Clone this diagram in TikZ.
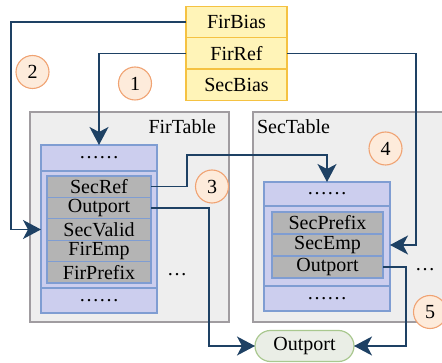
\documentclass[tikz,border=0pt]{standalone}
\usepackage{fontspec}
\setmainfont{Liberation Serif}
\usetikzlibrary{arrows.meta,positioning}
\definecolor{lnc}{HTML}{1E4164}
\definecolor{ylf}{HTML}{FFF4B8}
\definecolor{yld}{HTML}{F5C242}
\definecolor{tbf}{HTML}{EEEEEE}
\definecolor{tbd}{HTML}{A09CA0}
\definecolor{blf}{HTML}{CCCEEE}
\definecolor{bld}{HTML}{7F9DD2}
\definecolor{grf}{HTML}{B4B4B4}
\definecolor{cif}{HTML}{FDEBDB}
\definecolor{cid}{HTML}{F0A373}
\definecolor{otf}{HTML}{EAEEE6}
\definecolor{otd}{HTML}{A9C88F}
\begin{document}
\begin{tikzpicture}[x=1pt,y=-1pt,
  font=\fontsize{20}{22}\selectfont,
  every node/.style={inner sep=0pt,outer sep=0pt},
  ybox/.style={draw=yld,fill=ylf,line width=1.2pt,minimum width=101pt,minimum height=31.3pt},
  tbl/.style={draw=tbd,fill=tbf,line width=1.2pt},
  bbox/.style={draw=bld,fill=blf,line width=1.1pt},
  grayrow/.style={draw=bld,fill=grf,line width=1.1pt},
  num/.style={circle,draw=cid,fill=cif,line width=1.1pt,minimum size=33pt},
  arr/.style={draw=lnc,line width=1.4pt,-{Stealth[length=18pt,width=19pt,inset=5pt]}},
  ln/.style={draw=lnc,line width=1.4pt}]
\useasboundingbox (0,0) rectangle (442,363);
\clip (0,0) rectangle (442,363);
% tables
\node[tbl,minimum width=199pt,minimum height=210pt] (firtab) at (129.5,217) {};
\node[tbl,minimum width=220pt,minimum height=210pt] (sectab) at (363,217) {};
\node[anchor=east] (firlab) at (216,127) {FirTable};
\node[anchor=west] (seclab) at (257,127) {SecTable};
% yellow
\node[ybox] (fbias) at (236.5,22) {FirBias};
\node[ybox] (fref) at (236.5,53.3) {FirRef};
\node[ybox] (sbias) at (236.5,84.6) {SecBias};
% FirTable blue box
\node[bbox,minimum width=116pt,minimum height=26pt] (fhead) at (99,158) {……};
\node[bbox,minimum width=116pt,minimum height=117pt] (fmid) at (99,229.5) {};
\node[bbox,minimum width=116pt,minimum height=25pt] (fbot) at (99,300.5) {……};
\node[grayrow,minimum width=104pt,minimum height=21.4pt] (fsref) at (99,186.7) {SecRef};
\node[grayrow,minimum width=104pt,minimum height=21.4pt] (fout) at (99,208.1) {Outport};
\node[grayrow,minimum width=104pt,minimum height=21.4pt] (fval) at (99,229.5) {SecValid};
\node[grayrow,minimum width=104pt,minimum height=21.4pt] (femp) at (99,250.9) {FirEmp};
\node[grayrow,minimum width=104pt,minimum height=21.4pt] (fpre) at (99,272.3) {FirPrefix};
\node (fdots) at (177,275) {…};
% SecTable blue box
\node[bbox,minimum width=126pt,minimum height=24pt] (shead) at (327,194) {……};
\node[bbox,minimum width=126pt,minimum height=80pt] (smid) at (327,246) {};
\node[bbox,minimum width=126pt,minimum height=25pt] (sbot) at (327,298.5) {……};
\node[grayrow,minimum width=111pt,minimum height=22pt] (spre) at (327.5,223) {SecPrefix};
\node[grayrow,minimum width=111pt,minimum height=22pt] (semp) at (327.5,245) {SecEmp};
\node[grayrow,minimum width=111pt,minimum height=22pt] (sout) at (327.5,267) {Outport};
\node (sdots) at (425,270) {…};
% Outport terminal
\node[draw=otd,fill=otf,line width=1.2pt,rounded corners=15.5pt,minimum width=99pt,minimum height=31pt] (outp) at (304.5,346) {Outport};
% coordinates
\coordinate (c2) at (11,22);
\coordinate (c4) at (416,53.3);
\coordinate (c3) at (187,155);
\coordinate (c6) at (209,346);
\coordinate (c7) at (406,267);
% connectors
\draw[arr] (fbias.west) -- (c2) |- (fval -| fmid.west);
\draw[arr] (fref.west) -| (fhead.north);
\draw[arr] (fref.east) -- (c4) |- (semp -| smid.east);
\draw[arr] (fsref.east) -| (c3) -| (shead.north);
\draw[arr] (fout.east) -| (c6) -- (outp.west);
\draw[arr] (sout.east) -- (c7) |- (outp.east);
% numbers
\node[num] (n1) at (135,83.5) {1};
\node[num] (n2) at (32.5,72) {2};
\node[num] (n3) at (212,186.5) {3};
\node[num] (n4) at (385.5,148.5) {4};
\node[num] (n5) at (430,312) {5};
\end{tikzpicture}
\end{document}
